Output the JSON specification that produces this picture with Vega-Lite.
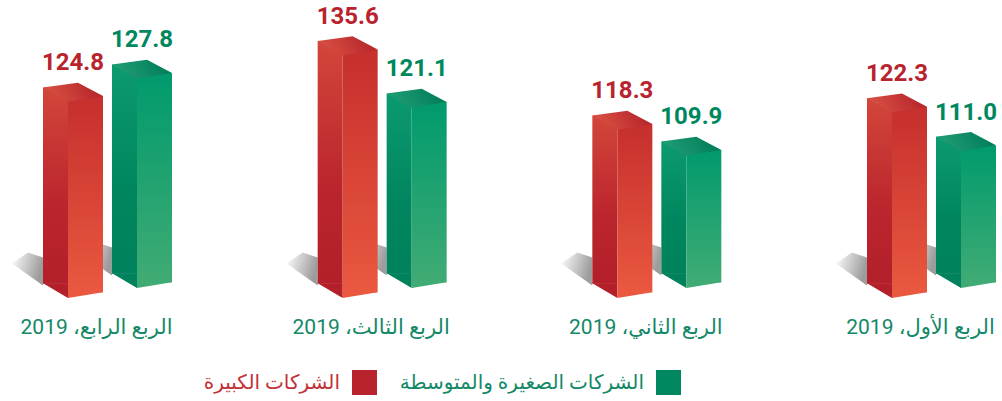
{
  "$schema": "https://vega.github.io/schema/vega-lite/v6.json",
  "width": 1002,
  "height": 288,
  "padding": 0,
  "background": "white",
  "config": {"view": {"stroke": null}},
  "data": {"values": [
    {"quarter": "الربع الأول، 2019", "series": "الشركات الكبيرة", "value": 122.3},
    {"quarter": "الربع الأول، 2019", "series": "الشركات الصغيرة والمتوسطة", "value": 111.0},
    {"quarter": "الربع الثاني، 2019", "series": "الشركات الكبيرة", "value": 118.3},
    {"quarter": "الربع الثاني، 2019", "series": "الشركات الصغيرة والمتوسطة", "value": 109.9},
    {"quarter": "الربع الثالث، 2019", "series": "الشركات الكبيرة", "value": 135.6},
    {"quarter": "الربع الثالث، 2019", "series": "الشركات الصغيرة والمتوسطة", "value": 121.1},
    {"quarter": "الربع الرابع، 2019", "series": "الشركات الكبيرة", "value": 124.8},
    {"quarter": "الربع الرابع، 2019", "series": "الشركات الصغيرة والمتوسطة", "value": 127.8}
  ]},
  "encoding": {
    "x": {
      "field": "quarter", "type": "nominal",
      "sort": ["الربع الرابع، 2019", "الربع الثالث، 2019", "الربع الثاني، 2019", "الربع الأول، 2019"],
      "scale": {"type": "point", "range": [107, 931], "padding": 0},
      "axis": {
        "title": null, "domain": false, "ticks": false, "grid": false,
        "labelAngle": 0, "labelFont": "Roboto, DejaVu Sans", "labelFontSize": 21,
        "labelColor": "#138868", "labelPadding": 28, "labelLimit": 300, "labelOffset": -11,
        "labelExpr": "'\u202B' + datum.label + '\u202C'"
      }
    }
  },
  "layer": [
    {
      "transform": [{"filter": "datum.series == 'الشركات الكبيرة'"}],
      "mark": {"type": "point", "filled": true, "opacity": 1, "strokeWidth": 0, "size": 900, "xOffset": -79,
        "shape": "M-1.07,-1.63L0,-2.37L1,-2.03L1,-0.17Z",
        "color": {"gradient": "linear", "x1": 0, "y1": 0, "x2": 1, "y2": 0.3, "stops": [{"offset": 0, "color": "#ffffff"}, {"offset": 1, "color": "#9c9c9c"}]}},
      "encoding": {"y": {"datum": 79.16, "type": "quantitative", "scale": {"domain": [79.16, 146.13], "zero": false, "nice": false}, "axis": null}}
    },
    {
      "transform": [{"filter": "datum.series != 'الشركات الكبيرة'"}],
      "mark": {"type": "point", "filled": true, "opacity": 1, "strokeWidth": 0, "size": 900, "xOffset": -10, "yOffset": -10,
        "shape": "M-1.07,-1.63L0,-2.37L1,-2.03L1,-0.17Z",
        "color": {"gradient": "linear", "x1": 0, "y1": 0, "x2": 1, "y2": 0.3, "stops": [{"offset": 0, "color": "#ffffff"}, {"offset": 1, "color": "#9c9c9c"}]}},
      "encoding": {"y": {"datum": 79.16, "type": "quantitative"}}
    },
    {
      "transform": [{"filter": "datum.series == 'الشركات الكبيرة'"}],
      "mark": {"type": "bar", "width": 25, "xOffset": -51.5, "yOffset": -4.25, "y2Offset": -4.25,
        "color": {"gradient": "linear", "x1": 0, "y1": 0, "x2": 0, "y2": 1, "stops": [{"offset": 0, "color": "#d3463a"}, {"offset": 0.6, "color": "#bb252d"}, {"offset": 1, "color": "#b3202a"}]}},
      "encoding": {"y": {"field": "value", "type": "quantitative"}, "y2": {"datum": 79.16}}
    },
    {
      "transform": [{"filter": "datum.series == 'الشركات الكبيرة'"}],
      "mark": {"type": "point", "filled": true, "opacity": 1, "strokeWidth": 0, "size": 3600, "xOffset": -34,
        "shape": "M-1,-0.16L-0.1667,-0.16L-0.1667,0.333Z", "color": "#b3202a"},
      "encoding": {"y": {"datum": 79.16, "type": "quantitative"}}
    },
    {
      "transform": [{"filter": "datum.series == 'الشركات الكبيرة'"}],
      "mark": {"type": "bar", "width": 35, "xOffset": -21.5, "yOffset": 4.25, "y2Offset": 4.25,
        "color": {"gradient": "linear", "x1": 0, "y1": 0, "x2": 0, "y2": 1, "stops": [{"offset": 0, "color": "#c52f2d"}, {"offset": 1, "color": "#e9583f"}]}},
      "encoding": {"y": {"field": "value", "type": "quantitative"}, "y2": {"datum": 79.16}}
    },
    {
      "transform": [{"filter": "datum.series == 'الشركات الكبيرة'"}],
      "mark": {"type": "point", "filled": true, "opacity": 1, "strokeWidth": 0, "size": 3600, "xOffset": -34,
        "shape": "M-0.1667,0.13L1,0.13L1,0.142L-0.1667,0.333Z", "color": "#e9583f"},
      "encoding": {"y": {"datum": 79.16, "type": "quantitative"}}
    },
    {
      "transform": [{"filter": "datum.series == 'الشركات الكبيرة'"}],
      "mark": {"type": "point", "filled": true, "opacity": 1, "strokeWidth": 0, "size": 3600, "xOffset": -34,
        "shape": "M-1,-0.142L0.1667,-0.3L1,0.142L-0.1667,0.333Z",
        "color": {"gradient": "linear", "x1": 0, "y1": 0.6, "x2": 1, "y2": 0.4, "stops": [{"offset": 0, "color": "#dc5444"}, {"offset": 1, "color": "#b3212a"}]}},
      "encoding": {"y": {"field": "value", "type": "quantitative"}}
    },
    {
      "transform": [{"filter": "datum.series != 'الشركات الكبيرة'"}],
      "mark": {"type": "bar", "width": 25, "xOffset": 17.5, "yOffset": -14.25, "y2Offset": -14.25,
        "color": {"gradient": "linear", "x1": 0, "y1": 0, "x2": 0, "y2": 1, "stops": [{"offset": 0, "color": "#0d9a70"}, {"offset": 0.6, "color": "#00865e"}, {"offset": 1, "color": "#00825c"}]}},
      "encoding": {"y": {"field": "value", "type": "quantitative"}, "y2": {"datum": 79.16}}
    },
    {
      "transform": [{"filter": "datum.series != 'الشركات الكبيرة'"}],
      "mark": {"type": "point", "filled": true, "opacity": 1, "strokeWidth": 0, "size": 3600, "xOffset": 35, "yOffset": -10,
        "shape": "M-1,-0.16L-0.1667,-0.16L-0.1667,0.333Z", "color": "#00825c"},
      "encoding": {"y": {"datum": 79.16, "type": "quantitative"}}
    },
    {
      "transform": [{"filter": "datum.series != 'الشركات الكبيرة'"}],
      "mark": {"type": "bar", "width": 35, "xOffset": 47.5, "yOffset": -5.75, "y2Offset": -5.75,
        "color": {"gradient": "linear", "x1": 0, "y1": 0, "x2": 0, "y2": 1, "stops": [{"offset": 0, "color": "#009a6d"}, {"offset": 1, "color": "#40ab74"}]}},
      "encoding": {"y": {"field": "value", "type": "quantitative"}, "y2": {"datum": 79.16}}
    },
    {
      "transform": [{"filter": "datum.series != 'الشركات الكبيرة'"}],
      "mark": {"type": "point", "filled": true, "opacity": 1, "strokeWidth": 0, "size": 3600, "xOffset": 35, "yOffset": -10,
        "shape": "M-0.1667,0.13L1,0.13L1,0.142L-0.1667,0.333Z", "color": "#40ab74"},
      "encoding": {"y": {"datum": 79.16, "type": "quantitative"}}
    },
    {
      "transform": [{"filter": "datum.series != 'الشركات الكبيرة'"}],
      "mark": {"type": "point", "filled": true, "opacity": 1, "strokeWidth": 0, "size": 3600, "xOffset": 35, "yOffset": -10,
        "shape": "M-1,-0.142L0.1667,-0.3L1,0.142L-0.1667,0.333Z",
        "color": {"gradient": "linear", "x1": 0, "y1": 0.6, "x2": 1, "y2": 0.4, "stops": [{"offset": 0, "color": "#22a077"}, {"offset": 1, "color": "#007a58"}]}},
      "encoding": {"y": {"field": "value", "type": "quantitative"}}
    },
    {
      "transform": [{"filter": "datum.series == 'الشركات الكبيرة'"}],
      "mark": {"type": "text", "font": "Roboto", "fontWeight": "bold", "fontSize": 24, "baseline": "alphabetic", "dy": -21.5, "xOffset": -34},
      "encoding": {
        "y": {"field": "value", "type": "quantitative"},
        "text": {"field": "value", "type": "quantitative", "format": ".1f"},
        "color": {"field": "series", "type": "nominal",
          "scale": {"domain": ["الشركات الكبيرة", "الشركات الصغيرة والمتوسطة"], "range": ["#b8232e", "#00875f"]},
          "legend": {
            "title": null, "orient": "none", "legendX": 352, "legendY": 370, "direction": "horizontal",
            "symbolType": "square", "symbolSize": 625, "symbolStrokeWidth": 0, "symbolOpacity": 1,
            "labelFont": "Roboto, DejaVu Sans", "labelFontSize": 20, "labelAlign": "right", "labelOffset": -37,
            "labelLimit": 400, "columnPadding": 22,
            "labelColor": {"expr": "datum.label == 'الشركات الكبيرة' ? '#c2323a' : '#138868'"}
          }
        }
      }
    },
    {
      "transform": [{"filter": "datum.series != 'الشركات الكبيرة'"}],
      "mark": {"type": "text", "font": "Roboto", "fontWeight": "bold", "fontSize": 24, "baseline": "alphabetic", "dy": -21.5, "xOffset": 35, "yOffset": -10},
      "encoding": {
        "y": {"field": "value", "type": "quantitative"},
        "text": {"field": "value", "type": "quantitative", "format": ".1f"},
        "color": {"field": "series", "type": "nominal"}
      }
    }
  ]
}
